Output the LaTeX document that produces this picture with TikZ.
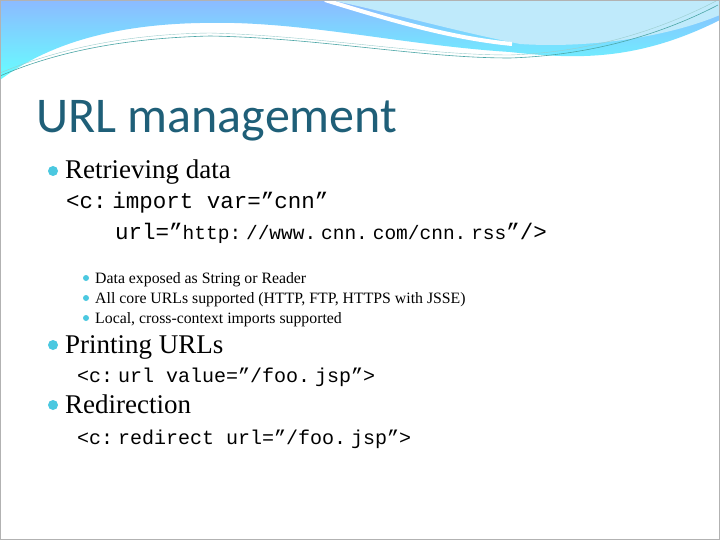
\documentclass[tikz,border=0pt]{standalone}
\usepackage{fontspec}
\setmainfont{Liberation Serif}
\newfontfamily\titlefont{Carlito}
\newfontfamily\codefont{Liberation Mono}
\definecolor{titlec}{HTML}{1F5F78}
\definecolor{bulc}{HTML}{4BC8E0}
\newcommand{\ts}{\hspace{0.25em}}
\begin{document}
\begin{tikzpicture}[x=1pt,y=-1pt,
  txt/.style={anchor=base west,inner sep=0pt},
  bul/.style={circle,fill=bulc,inner sep=0pt,minimum size=#1}]
\useasboundingbox (0,0) rectangle (720,540);
\fill[white] (0,0) rectangle (720,540);
% wave
\shade[top color=cyan!40!blue!45!white,bottom color=cyan!60!white]
  (0,0) -- (720,0) -- (720,20) .. controls (640,60) and (580,60) .. (510,52)
  .. controls (400,45) and (300,20) .. (200,23) .. controls (100,25) and (40,50) .. (0,80) -- cycle;
\fill[cyan!25!white] (330,0) -- (720,0) -- (720,15) .. controls (660,40) and (580,48) .. (520,44)
  .. controls (450,30) and (380,10) .. (330,0) -- cycle;
\draw[white,line width=4pt] (325,0) .. controls (390,20) and (450,38) .. (512,44);
\fill[white] (0,82) .. controls (40,55) and (100,28) .. (200,26) .. controls (300,24) and (400,48) .. (510,55)
  .. controls (580,60) and (640,60) .. (720,25) -- (720,540) -- (0,540) -- cycle;
\draw[teal!70,line width=0.6pt] (0,76) .. controls (60,50) and (130,38) .. (210,36) .. controls (320,38) and (420,58) .. (510,58) .. controls (600,55) and (670,30) .. (718,5);
\draw[teal!40,line width=0.4pt] (0,73) .. controls (60,48) and (130,34) .. (210,33) .. controls (320,36) and (420,55) .. (510,55) .. controls (600,52) and (670,25) .. (718,0);
\draw[gray!60,line width=0.8pt] (0.5,0.5) rectangle (719.5,539.5);
% title
\node[txt,font=\titlefont\fontsize{50}{50}\selectfont,text=titlec] (title) at (36,133) {URL management};
% level 1
\node[bul=10pt] (b1) at (53,171) {};
\node[txt,font=\fontsize{27}{27}\selectfont] (t1) at (65,179) {Retrieving data};
\node[txt,font=\codefont\fontsize{22.5}{22.5}\selectfont] (c1) at (66,209) {<c:\ts import var=”cnn”};
\node[txt,font=\codefont\fontsize{22.5}{22.5}\selectfont] (c2) at (115,240) {url=”{\fontsize{19.5}{19.5}\selectfont http:\ts//www.\ts cnn.\ts com/cnn.\ts rss}”/>};
\node[bul=6pt] (s1) at (86,278) {};
\node[txt,font=\fontsize{15.8}{15.8}\selectfont] (st1) at (95,283) {Data exposed as String or Reader};
\node[bul=6pt] (s2) at (86,298) {};
\node[txt,font=\fontsize{15.8}{15.8}\selectfont] (st2) at (95,303) {All core URLs supported (HTTP, FTP, HTTPS with JSSE)};
\node[bul=6pt] (s3) at (86,318) {};
\node[txt,font=\fontsize{15.8}{15.8}\selectfont] (st3) at (95,323) {Local, cross-context imports supported};
\node[bul=10pt] (b2) at (53,345) {};
\node[txt,font=\fontsize{27}{27}\selectfont] (t2) at (65,353) {Printing URLs};
\node[txt,font=\codefont\fontsize{20}{20}\selectfont] (c3) at (77,382) {<c:\ts url value=”/foo.\ts jsp”>};
\node[bul=10pt] (b3) at (53,405) {};
\node[txt,font=\fontsize{27}{27}\selectfont] (t3) at (65,413) {Redirection};
\node[txt,font=\codefont\fontsize{20}{20}\selectfont] (c4) at (77,444) {<c:\ts redirect url=”/foo.\ts jsp”>};
\end{tikzpicture}
\end{document}
